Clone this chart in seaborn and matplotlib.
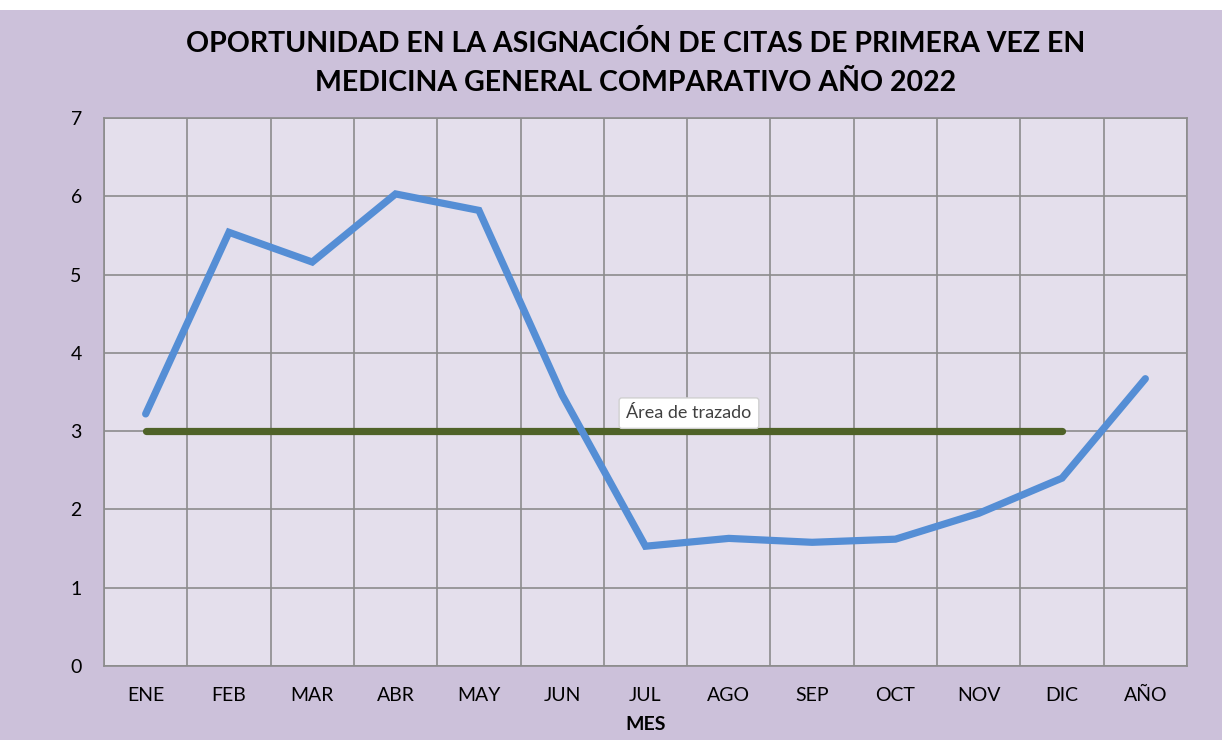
import matplotlib
matplotlib.use('Agg')
import numpy as np
import pandas as pd
import seaborn as sns
import matplotlib.pyplot as plt
from matplotlib.patches import Rectangle

# data
meses = ['ENE', 'FEB', 'MAR', 'ABR', 'MAY', 'JUN', 'JUL', 'AGO', 'SEP', 'OCT', 'NOV', 'DIC', 'AÑO']
oportunidad = [3.22, 5.54, 5.16, 6.03, 5.82, 3.46, 1.53, 1.63, 1.58, 1.62, 1.95, 2.40, 3.67]
meta = [3, 3, 3, 3, 3, 3, 3, 3, 3, 3, 3, 3]

sns.set_style('white')
plt.rcParams['font.family'] = ['Lato', 'DejaVu Sans']
plt.rcParams['text.color'] = 'black'

bg = '#CCC1DA'
plot_bg = '#E4DFEC'
grid_c = '#8C8C8C'

fig = plt.figure(figsize=(12.22, 7.40), dpi=100)
fig.patch.set_facecolor('white')
fig.patches.append(Rectangle((0, 0), 1, 1 - 10 / 740, transform=fig.transFigure,
                             facecolor=bg, edgecolor='none', zorder=-10))

ax = fig.add_axes([104 / 1222, 1 - 666 / 740, 1083 / 1222, 548 / 740])
ax.set_facecolor(plot_bg)

df = pd.DataFrame({'idx': np.arange(len(meses)), 'valor': oportunidad})
df_meta = pd.DataFrame({'idx': np.arange(len(meta)), 'valor': meta})

sns.lineplot(data=df_meta, x='idx', y='valor', ax=ax, color='#4F6228', linewidth=5.2,
             solid_capstyle='round', zorder=3)
sns.lineplot(data=df, x='idx', y='valor', ax=ax, color='#558ED5', linewidth=5.2,
             solid_capstyle='round', solid_joinstyle='miter', zorder=4)

ax.set_xlim(-0.5, len(meses) - 0.5)
ax.set_ylim(0, 7)
ax.set_yticks(range(0, 8))
ax.set_xticks(np.arange(len(meses)))
ax.set_xticklabels(meses)
ax.set_xticks(np.arange(-0.5, len(meses)), minor=True)
ax.tick_params(axis='x', which='major', length=0, pad=15, labelsize=14, labelcolor='black')
ax.tick_params(axis='x', which='minor', length=7, width=1.2, color=grid_c, direction='out')
ax.tick_params(axis='y', length=7, width=1.2, color=grid_c, direction='out', pad=9,
               labelsize=14, labelcolor='black')

ax.grid(True, which='minor', axis='x', color=grid_c, linewidth=1.2)
ax.grid(True, which='major', axis='y', color=grid_c, linewidth=1.2)
ax.set_axisbelow(True)
for side, sp in ax.spines.items():
    sp.set_color(grid_c)
    sp.set_linewidth(1.2)

ax.set_xlabel('MES', fontsize=14, fontweight='bold', labelpad=9, color='black')
ax.set_ylabel('')

fig.suptitle('OPORTUNIDAD EN LA ASIGNACIÓN DE CITAS DE PRIMERA VEZ EN\nMEDICINA GENERAL COMPARATIVO AÑO 2022',
             fontsize=20.5, fontweight='bold', x=636 / 1222, y=1 - 30 / 740, va='top',
             linespacing=1.6, color='black')

# tooltip shown in the screenshot
ax.text(5.77, 3.23, 'Área de trazado', fontsize=13, color='#404040', va='center', ha='left',
        zorder=6, bbox=dict(boxstyle='round,pad=0.4,rounding_size=0.15', facecolor='white',
                            edgecolor='#d0d0d0'))

plt.savefig('out.png', dpi=100, facecolor=fig.get_facecolor())
